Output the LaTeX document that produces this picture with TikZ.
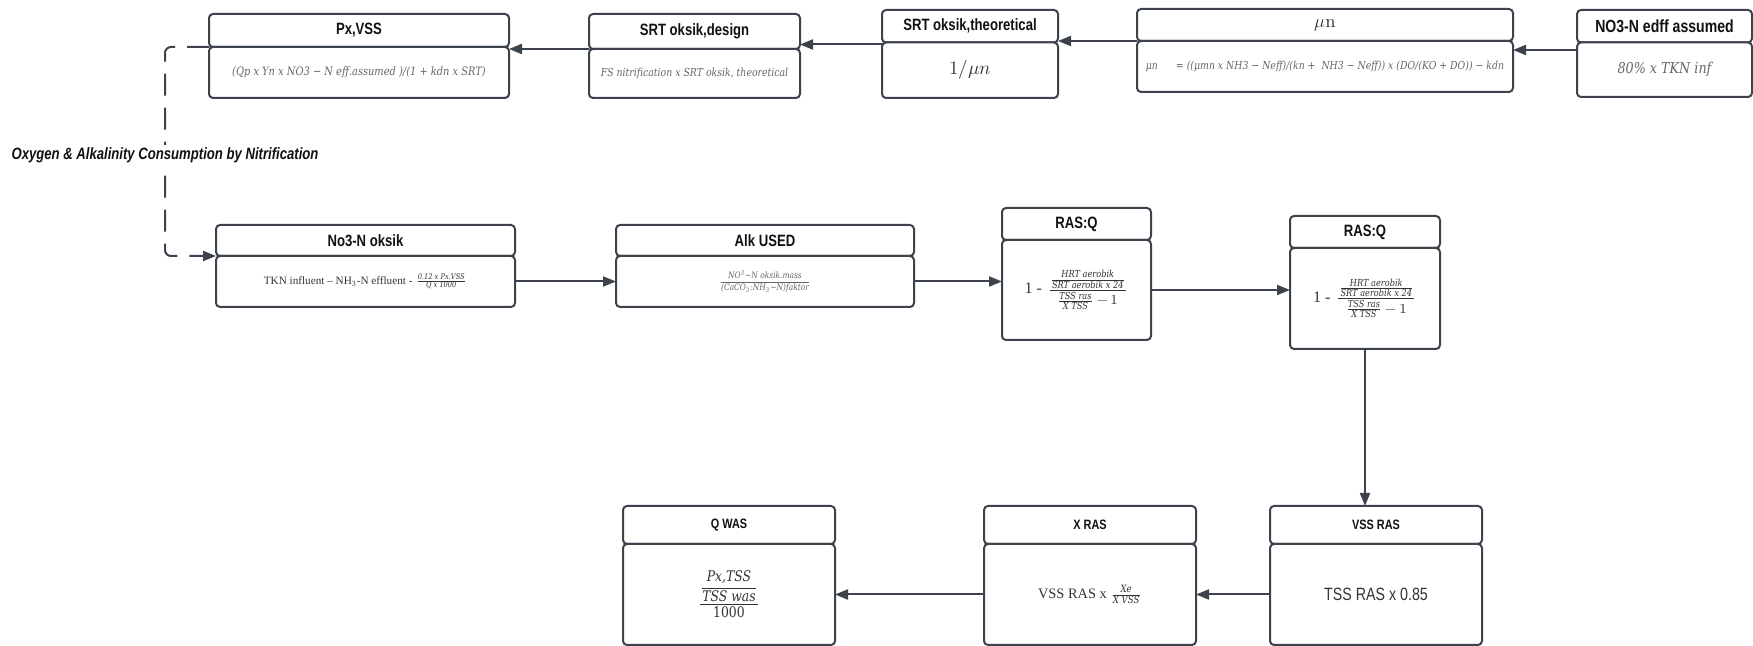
\documentclass[tikz,border=0pt]{standalone}
\usepackage{amsmath}
\usepackage{fontspec}
\usepackage{unicode-math}
\setmathfont{Latin Modern Math}
\newfontfamily\tfont[FakeStretch=0.8]{Liberation Sans}
\newfontfamily\cfont[FakeStretch=0.85]{DejaVu Serif}
\newfontfamily\tms{Liberation Serif}
\newcommand\cf[1]{\text{\cfont\itshape #1}}
\usetikzlibrary{arrows.meta}
\definecolor{bd}{HTML}{3D434C}
\definecolor{ttl}{HTML}{111111}
\definecolor{gr}{HTML}{666666}
\definecolor{dg}{HTML}{333333}
\tikzset{
  box/.style={draw=bd, line width=1pt, rounded corners=2pt, inner sep=1pt, outer sep=0pt, align=center, fill=white},
  tbox/.style={box, text=ttl, font={\tfont\bfseries\fontsize{8.2}{9}\selectfont}},
  bbox/.style={box, text=gr},
  arr/.style={draw=bd, line width=1pt, -{Triangle[length=6.5pt,width=5pt]}},
  lbl/.style={fill=white, inner sep=1pt, text=ttl, font={\tfont\bfseries\itshape\fontsize{8.2}{9}\selectfont}}
}
% #1 name, #2 x1, #3 y1, #4 ysplit, #5 x2, #6 y2, #7 title, #8 body
\newcommand\twobox[8]{%
  \node[tbox, anchor=north west, minimum width={(#5-#2)*0.5pt}, minimum height={(#4-#3)*0.5pt}] (#1t) at (#2,#3) {#7};
  \node[bbox, anchor=north west, minimum width={(#5-#2)*0.5pt}, minimum height={(#6-#4)*0.5pt}] (#1b) at (#2,#4) {#8};
}
\begin{document}
\begin{tikzpicture}[x=0.5pt,y=-0.5pt]
\useasboundingbox (0,0) rectangle (1753,646);
% top row
\twobox{px}{209}{14}{47}{509}{98}{Px,VSS}
  {\cfont\itshape\fontsize{5.8}{6}\selectfont (Qp x Yn x NO3 − N eff.assumed )/(1 + kdn x SRT)}
\twobox{sd}{589}{14}{49}{800}{98}{SRT oksik,design}
  {\cfont\itshape\fontsize{5.5}{6}\selectfont FS nitrification x SRT oksik, theoretical}
\twobox{st}{882}{10}{42.5}{1058}{98}{SRT oksik,theoretical}
  {\color{dg}\fontsize{9.5}{10}\selectfont $1/\mu n$}
\twobox{mu}{1137}{9}{41}{1513}{92}{{\rmfamily\mdseries\color{dg}\fontsize{9}{10}\selectfont $\mu$n}}
  {\cfont\itshape\fontsize{5.5}{6}\selectfont μn\hspace{9pt}= ((μmn x NH3 − Neff)/(kn +\ \ NH3 − Neff)) x (DO/(KO + DO)) − kdn}
\twobox{no}{1577}{10}{42.5}{1752}{97}{{\fontsize{8.8}{9}\selectfont NO3-N edff assumed}}
  {\cfont\itshape\fontsize{7.5}{8}\selectfont 80\% x TKN inf}
% middle row
\twobox{nok}{216}{225}{256}{515}{307}{No3-N oksik}
  {\color{dg}\tms\fontsize{5.6}{6}\selectfont TKN influent – NH\textsubscript{3}-N effluent - $\frac{\cf{0.12 x Px.VSS}}{\cf{Q x 1000}}$}
\twobox{alk}{616}{225}{256}{914}{307}{Alk USED}
  {\fontsize{4.4}{5}\selectfont $\dfrac{\cf{NO\textsuperscript{3}−N oksik.mass}}{\cf{(CaCO\textsubscript{3}:NH\textsubscript{3}−N)faktor}}$}
\twobox{ra}{1002}{208}{240}{1151}{340}{RAS:Q}
  {\color{dg}\fontsize{6.9}{8}\selectfont {\tms\fontsize{8}{8}\selectfont 1 -}~$\dfrac{\frac{\cf{HRT aerobik}}{\cf{SRT aerobik x 24}}}{\frac{\cf{TSS ras}}{\cf{X TSS}}-1}$}
\twobox{rb}{1290}{216}{248}{1440}{349}{RAS:Q}
  {\color{dg}\fontsize{6.9}{8}\selectfont {\tms\fontsize{8}{8}\selectfont 1 -}~$\dfrac{\frac{\cf{HRT aerobik}}{\cf{SRT aerobik x 24}}}{\frac{\cf{TSS ras}}{\cf{X TSS}}-1}$}
% bottom row
\twobox{vs}{1270}{506}{544}{1482}{645}{{\fontsize{6.8}{8}\selectfont VSS RAS}}
  {\color{dg}\tfont\fontsize{8.9}{10}\selectfont TSS RAS x 0.85}
\twobox{xr}{984}{506}{544}{1196}{645}{{\fontsize{6.8}{8}\selectfont X RAS}}
  {\color{dg}\tms\fontsize{7.2}{9}\selectfont VSS RAS x $\frac{\cf{Xe}}{\cf{X VSS}}$}
\twobox{qw}{623}{506}{544}{835}{645}{{\fontsize{6.8}{8}\selectfont Q WAS}}
  {\color{dg}\fontsize{7.3}{9}\selectfont $\dfrac{\dfrac{\cf{Px,TSS}}{\cf{TSS was}}}{\text{\cfont 1000}}$}
% connectors
\coordinate (n1) at ([yshift=-3.75pt]not.south west);
\draw[arr] (n1) -- (n1 -| mub.east);
\draw[arr] (mut.south west) -- (mut.south west -| stt.east);
\coordinate (s1) at ([yshift=-1pt]stt.south west);
\draw[arr] (s1) -- (s1 -| sdt.east);
\draw[arr] (sdt.south west) -- (sdt.south west -| pxt.east);
\coordinate (dl) at (165,155);
\draw[arr, dash pattern=on 11pt off 6pt, rounded corners=3pt] (pxt.south west) -| (dl) |- (nokt.south west);
\node[lbl] (lab) at (dl) {Oxygen \& Alkalinity Consumption by Nitrification};
\draw[arr] (nokb.east) -- (alkb.west);
\draw[arr] (alkb.east) -- (alkb.east -| rab.west);
\draw[arr] (rab.east) -- (rab.east -| rbb.west);
\draw[arr] (rbb.south) -- (rbb.south |- vst.north);
\draw[arr] (vsb.west) -- (vsb.west -| xrb.east);
\draw[arr] (xrb.west) -- (qwb.east);
\end{tikzpicture}
\end{document}
